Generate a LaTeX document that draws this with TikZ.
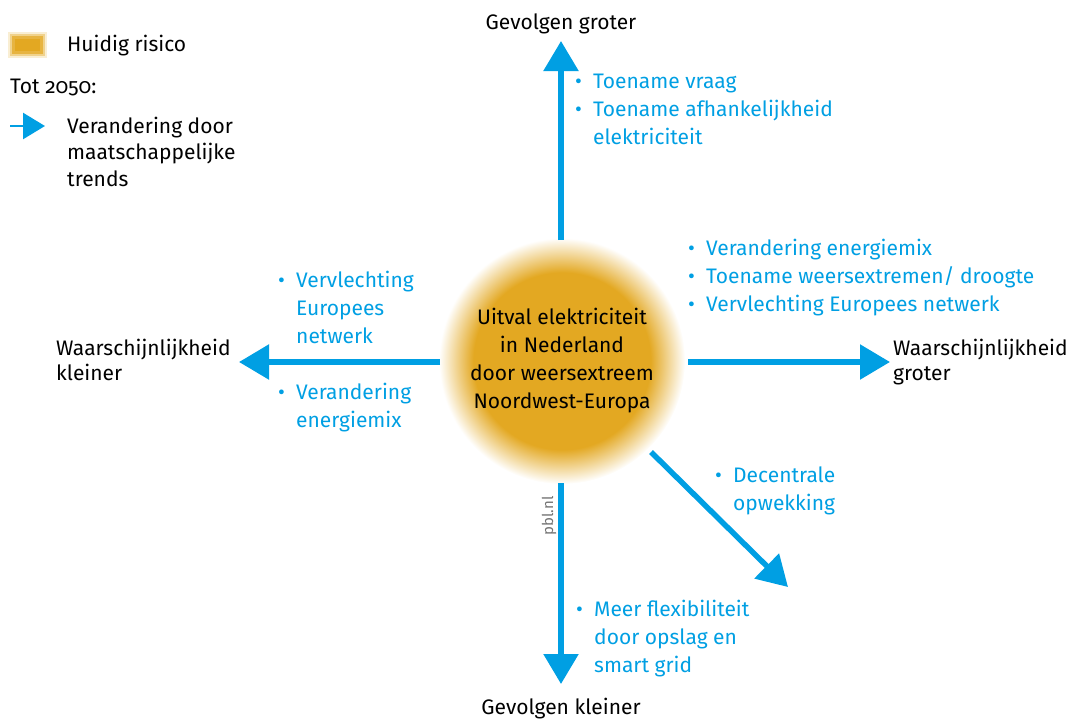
\documentclass[tikz,border=0pt]{standalone}
\usepackage{fontspec}
\setmainfont{Fira Sans}[Numbers=OldStyle]
\usetikzlibrary{arrows.meta}
\definecolor{pblblue}{HTML}{009FE3}
\definecolor{risk}{HTML}{E3A822}
\pgfdeclareradialshading{glow}{\pgfpoint{0bp}{0bp}}{color(0bp)=(risk); color(18bp)=(risk); color(25bp)=(white); color(50bp)=(white)}
\newcommand\lblfont{\fontsize{21}{28}\selectfont}
\newcommand\bul{\makebox[18pt][l]{\raisebox{0pt}{•}}}
\begin{document}
\begin{tikzpicture}[x=1pt,y=-1pt,
  arr/.style={draw=pblblue, line width=5.5pt, -{Triangle[length=30pt,width=34pt]}},
  lbl/.style={inner sep=0pt, font=\lblfont, text=black},
  blu/.style={inner sep=0pt, font=\lblfont, text=pblblue, anchor=base west}]
\useasboundingbox (0,0) rectangle (1070,718);
% central risk
\node[circle, minimum size=246pt, inner sep=0pt, shading=glow, align=center,
      font=\lblfont, text=black] (c) at (562,361)
  {Uitval elektriciteit\\in Nederland\\door weersextreem\\Noordwest-Europa};
% arrow end points
\coordinate (uS) at (561,240); \coordinate (uE) at (561,41);
\coordinate (dS) at (561,483); \coordinate (dE) at (561,684);
\coordinate (lS) at (440,362); \coordinate (lE) at (239,362);
\coordinate (rS) at (688,362); \coordinate (rE) at (890,362);
\coordinate (gS) at (651,452); \coordinate (gE) at (788,587);
\draw[arr] (uS) -- (uE);
\draw[arr] (dS) -- (dE);
\draw[arr] (lS) -- (lE);
\draw[arr] (rS) -- (rE);
\draw[arr] (gS) -- (gE);
% axis labels
\node[lbl, anchor=base] (top) at (561,29) {Gevolgen groter};
\node[lbl, anchor=base] (bot) at (561,714) {Gevolgen kleiner};
\node[lbl, anchor=base west, font={\fontsize{21}{25}\selectfont}] (lw) at (56,355) {\begin{tabular}[t]{@{}l@{}}Waarschijnlijkheid\\kleiner\end{tabular}};
\node[lbl, anchor=base west, font={\fontsize{21}{25}\selectfont}] (rw) at (893,355) {\begin{tabular}[t]{@{}l@{}}Waarschijnlijkheid\\groter\end{tabular}};
% blue lists
\node[blu] (lt) at (575,88) {\begin{tabular}[t]{@{}l@{}l@{}}\bul & Toename vraag\\ \bul & Toename afhankelijkheid\\ & elektriciteit\end{tabular}};
\node[blu] (lr) at (688,255) {\begin{tabular}[t]{@{}l@{}l@{}}\bul & Verandering energiemix\\ \bul & Toename weersextremen/ droogte\\ \bul & Vervlechting Europees netwerk\end{tabular}};
\node[blu] (ll1) at (278,287) {\begin{tabular}[t]{@{}l@{}l@{}}\bul & Vervlechting\\ & Europees\\ & netwerk\end{tabular}};
\node[blu] (ll2) at (278,399) {\begin{tabular}[t]{@{}l@{}l@{}}\bul & Verandering\\ & energiemix\end{tabular}};
\node[blu] (ld) at (715,482) {\begin{tabular}[t]{@{}l@{}l@{}}\bul & Decentrale\\ & opwekking\end{tabular}};
\node[blu] (lb) at (576,616) {\begin{tabular}[t]{@{}l@{}l@{}}\bul & Meer flexibiliteit\\ & door opslag en\\ & smart grid\end{tabular}};
% source
\node[inner sep=0pt, rotate=90, anchor=base, text=black!55, font={\fontsize{15}{15}\selectfont}] (src) at (553,516) {pbl.nl};
% legend
\fill[risk, opacity=0.2] (8,32) rectangle (47,58);
\fill[risk, opacity=0.4] (10,34) rectangle (45,56);
\fill[risk, opacity=0.7] (12,36) rectangle (43,54);
\fill[risk] (15,39) rectangle (40,51);
\node[lbl, anchor=base west] (leg1) at (67,51) {Huidig risico};
\node[lbl, anchor=base west] (leg2) at (10,93) {Tot 2050:};
\coordinate (aS) at (10,126); \coordinate (aE) at (45,126);
\draw[draw=pblblue, line width=2.5pt, -{Triangle[length=22pt,width=26pt]}] (aS) -- (aE);
\node[lbl, anchor=base west, font={\fontsize{21}{26.5}\selectfont}] (leg3) at (67,133) {\begin{tabular}[t]{@{}l@{}}Verandering door\\maatschappelijke\\trends\end{tabular}};
\end{tikzpicture}
\end{document}
